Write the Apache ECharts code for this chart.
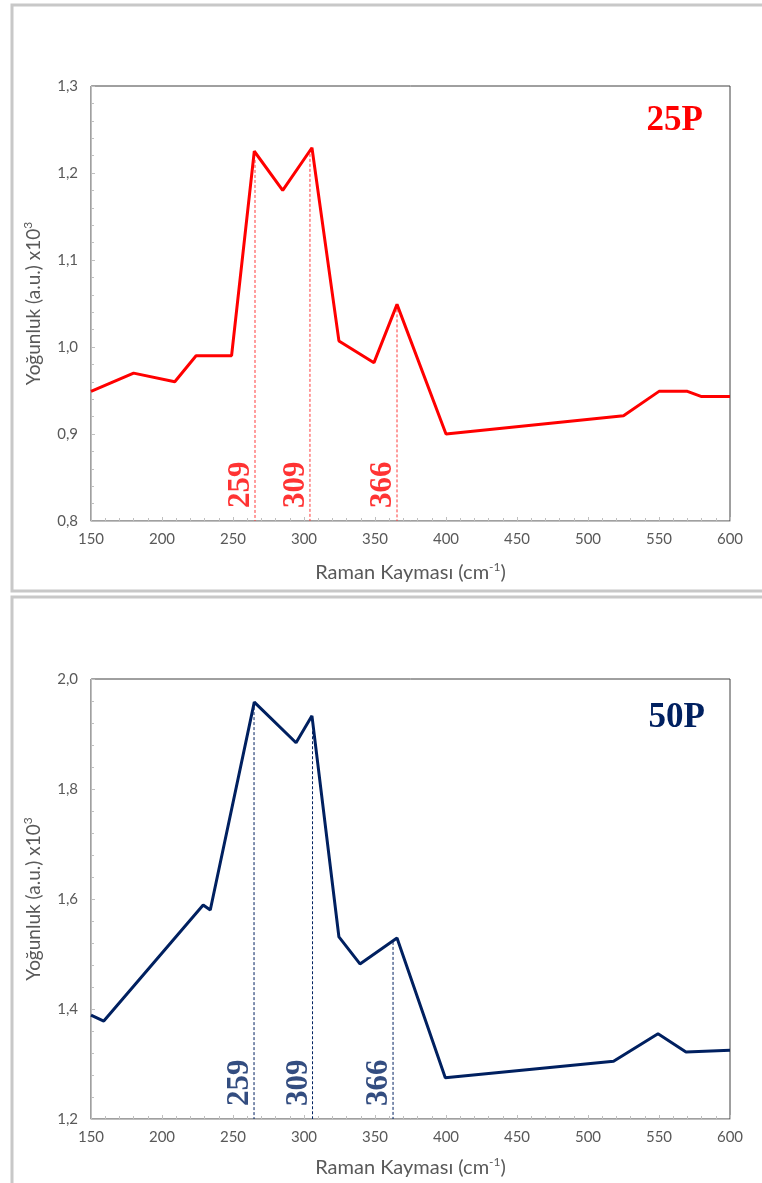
<!DOCTYPE html>
<html><head><meta charset="utf-8">
<script src="https://cdn.jsdelivr.net/npm/echarts@6/dist/echarts.min.js"></script>
<style>html,body{margin:0;padding:0;background:#fff}#c{width:762px;height:1183px}</style>
</head><body><div id="c"></div>
<script>
// ---- data ----
const x25 = [150, 180, 209, 224, 249, 265, 285, 305.6, 324.6, 349.3, 365.5, 400, 525, 550, 570, 580, 600];
const y25 = [0.949, 0.970, 0.960, 0.990, 0.990, 1.225, 1.180, 1.229, 1.007, 0.982, 1.049, 0.900, 0.921, 0.949, 0.949, 0.943, 0.943];
const x50 = [150, 159, 229, 234, 265, 294.4, 305.6, 324.6, 339.4, 365.5, 399.5, 518, 549.3, 569, 600];
const y50 = [1.389, 1.378, 1.589, 1.580, 1.958, 1.884, 1.933, 1.531, 1.482, 1.529, 1.275, 1.305, 1.355, 1.322, 1.325];
const peakLabels = ['259', '309', '366'];
const peakX25 = [265.5, 304.2, 365.5];
const peakTop25 = [1.215, 1.222, 1.049];
const peakX50 = [264.8, 306, 362.7];
const peakTop50 = [1.958, 1.905, 1.522];
const sampleNames = ['25P', '50P'];
const xTitle = 'Raman Kayması (cm{sup|-1})';
const yTitle = 'Yoğunluk (a.u.) x10{sup|3}';

const RED = '#ff0000', NAVY = '#002060', GRAY = '#595959', AX = '#bfbfbf';
const tickFont = 'Lato, "Open Sans", sans-serif';

function xAxis(gi, gap) {
  return {
    type: 'value', gridIndex: gi, min: 150, max: 600, interval: 50,
    axisLine: {lineStyle: {color: AX}},
    axisTick: {inside: true, length: 4, lineStyle: {color: AX}},
    minorTick: {show: true, splitNumber: 5, length: 3, lineStyle: {color: AX}},
    splitLine: {show: false},
    axisLabel: {color: GRAY, fontSize: 15, fontFamily: tickFont, margin: 11},
    name: xTitle, nameLocation: 'middle', nameGap: gap,
    nameTextStyle: {color: GRAY, fontSize: 20, fontFamily: tickFont,
      rich: {sup: {fontSize: 12, color: GRAY, fontFamily: tickFont, verticalAlign: 'top', padding: [0, 0, 12, 0]}}}
  };
}
function yAxis(gi, min, max, interval) {
  return {
    type: 'value', gridIndex: gi, min: min, max: max, interval: interval,
    axisLine: {show: true, lineStyle: {color: AX}},
    axisTick: {show: true, inside: true, length: 4, lineStyle: {color: AX}},
    minorTick: {show: true, splitNumber: 5, length: 3, lineStyle: {color: AX}},
    splitLine: {show: false},
    axisLabel: {color: GRAY, fontSize: 15, fontFamily: tickFont, margin: 13,
      formatter: v => v.toFixed(1).replace('.', ',')},
    name: yTitle, nameLocation: 'middle', nameGap: 45,
    nameTextStyle: {color: GRAY, fontSize: 19, fontFamily: tickFont,
      rich: {sup: {fontSize: 12, color: GRAY, fontFamily: tickFont, verticalAlign: 'top', padding: [0, 0, 12, 0]}}}
  };
}
function lineSeries(gi, xs, ys, color) {
  return {type: 'line', xAxisIndex: gi, yAxisIndex: gi, data: xs.map((x, i) => [x, ys[i]]),
    symbol: 'none', lineStyle: {color: color, width: 3}, z: 5, animation: false};
}
function dashSeries(gi, xs, tops, ymin, color) {
  return xs.map((x, i) => ({type: 'line', xAxisIndex: gi, yAxisIndex: gi,
    data: [[x, tops[i]], [x, ymin]], symbol: 'none', z: 3, animation: false,
    lineStyle: {color: color, width: 1, type: [3, 2]}}));
}
function labelSeries(gi, xs, ymin, color) {
  return {type: 'scatter', xAxisIndex: gi, yAxisIndex: gi, symbolSize: 0, animation: false,
    data: xs.map((x, i) => ({value: [x, ymin], name: peakLabels[i]})),
    label: {show: true, formatter: p => p.name, rotate: 90, position: [-14, -13],
      align: 'left', verticalAlign: 'middle', color: color,
      fontFamily: '"Liberation Serif", "Times New Roman", serif', fontWeight: 'bold', fontSize: 31}};
}

const chart = echarts.init(document.getElementById('c'), null, {renderer: 'canvas'});
chart.setOption({
  animation: false,
  grid: [
    {left: 91, top: 86, width: 639, height: 435, show: true, borderColor: '#404040', borderWidth: 1},
    {left: 91, top: 679, width: 639, height: 440, show: true, borderColor: '#404040', borderWidth: 1}
  ],
  xAxis: [xAxis(0, 40), xAxis(1, 37)],
  yAxis: [yAxis(0, 0.8, 1.3, 0.1), yAxis(1, 1.2, 2.0, 0.2)],
  series: [
    lineSeries(0, x25, y25, RED),
    ...dashSeries(0, peakX25, peakTop25, 0.8, '#ff3b3b'),
    labelSeries(0, peakX25, 0.8, RED),
    lineSeries(1, x50, y50, NAVY),
    ...dashSeries(1, peakX50, peakTop50, 1.2, NAVY),
    labelSeries(1, peakX50, 1.2, NAVY)
  ],
  graphic: [
    {type: 'rect', shape: {x: 12, y: 5, width: 800, height: 586}, style: {fill: null, stroke: '#c8c8c8', lineWidth: 3}, z: -1},
    {type: 'rect', shape: {x: 12, y: 597, width: 800, height: 600}, style: {fill: null, stroke: '#c8c8c8', lineWidth: 3}, z: -1},
    {type: 'text', x: 703, y: 121, style: {text: sampleNames[0], fill: RED, align: 'right', verticalAlign: 'middle',
      font: 'bold 35px "Liberation Serif", "Times New Roman", serif'}},
    {type: 'text', x: 705, y: 718, style: {text: sampleNames[1], fill: NAVY, align: 'right', verticalAlign: 'middle',
      font: 'bold 35px "Liberation Serif", "Times New Roman", serif'}}
  ]
});
</script></body></html>
